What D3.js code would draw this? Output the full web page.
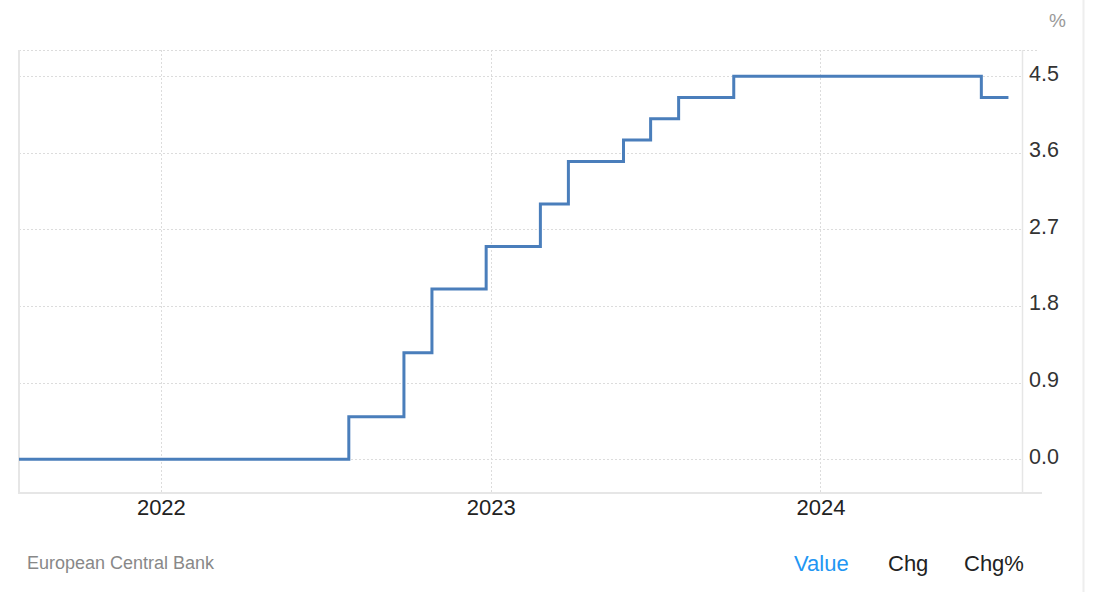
<!DOCTYPE html>
<html>
<head>
<meta charset="utf-8">
<script src="https://cdn.jsdelivr.net/npm/d3@7"></script>
<style>
  html, body { margin: 0; padding: 0; background: #fff; }
  svg { display: block; font-family: "Liberation Sans", Arial, sans-serif; }
</style>
</head>
<body>
<svg id="chart" width="1093" height="592"></svg>
<script>
// ---- data (change points of the series, step-after) ----
const dates = ["2021-07-28", "2022-07-28", "2022-09-27", "2022-10-28", "2022-12-27",
               "2023-02-25", "2023-03-28", "2023-05-28", "2023-06-27", "2023-07-28",
               "2023-09-27", "2024-06-27", "2024-07-27"];
const values = [0.0, 0.5, 1.25, 2.0, 2.5, 3.0, 3.5, 3.75, 4.0, 4.25, 4.5, 4.25, 4.25];
const yTicks = [0.0, 0.9, 1.8, 2.7, 3.6, 4.5];
const xTickYears = [2022, 2023, 2024];
const unitLabel = "%";
const sourceLabel = "European Central Bank";
const tabs = ["Value", "Chg", "Chg%"];

(function () {
const parse = d3.timeParse("%Y-%m-%d");
const data = dates.map((d, i) => ({ date: parse(d), value: values[i] }));

const svg = d3.select("#chart");
const pL = 19, pR = 1022, pT = 50, pB = 493;

const x = d3.scaleTime()
  .domain([parse("2021-07-28"), parse("2024-08-11")])
  .range([pL, pR]);
const y = d3.scaleLinear()
  .domain([-0.397, 4.809])
  .range([pB, pT]);

// page right border
svg.append("line").attr("x1", 1083.5).attr("x2", 1083.5).attr("y1", 0).attr("y2", 592)
  .attr("stroke", "#eeeeee").attr("stroke-width", 2);

const grid = svg.append("g");
grid.selectAll("line.h").data(yTicks).join("line")
  .attr("x1", pL).attr("x2", pR)
  .attr("y1", d => Math.round(y(d)) + 0.5).attr("y2", d => Math.round(y(d)) + 0.5)
  .attr("stroke", "#dcdcdc").attr("stroke-width", 1).attr("stroke-dasharray", "2,2");
grid.append("line").attr("x1", pL).attr("x2", 1037)
  .attr("y1", pT + 0.5).attr("y2", pT + 0.5)
  .attr("stroke", "#dcdcdc").attr("stroke-dasharray", "2,2");
const yearDates = xTickYears.map(yr => new Date(yr, 0, 1));
grid.selectAll("line.v").data(yearDates).join("line")
  .attr("x1", d => Math.round(x(d)) + 0.5).attr("x2", d => Math.round(x(d)) + 0.5)
  .attr("y1", pT).attr("y2", pB)
  .attr("stroke", "#dcdcdc").attr("stroke-width", 1).attr("stroke-dasharray", "2,2");

// borders
svg.append("line").attr("x1", pL).attr("x2", pL).attr("y1", pT).attr("y2", pB + 1)
  .attr("stroke", "#e6e6e6").attr("stroke-width", 2);
svg.append("line").attr("x1", pR + 0.5).attr("x2", pR + 0.5).attr("y1", pT).attr("y2", pB)
  .attr("stroke", "#e6e6e6").attr("stroke-width", 1.5);
svg.append("line").attr("x1", pL).attr("x2", 1042).attr("y1", pB).attr("y2", pB)
  .attr("stroke", "#e6e6e6").attr("stroke-width", 2);

// line
const line = d3.line().x(d => x(d.date)).y(d => y(d.value)).curve(d3.curveStepAfter);
svg.append("path").datum(data)
  .attr("d", line)
  .attr("fill", "none")
  .attr("stroke", "#4a7ebb")
  .attr("stroke-width", 3)
  .attr("stroke-linejoin", "miter")
  .attr("stroke-linecap", "butt");

// y axis labels (right)
const yAxis = d3.axisRight(y).tickValues(yTicks).tickFormat(d3.format(".1f")).tickSize(0).tickPadding(0);
const yg = svg.append("g").attr("transform", "translate(1029,-3)").call(yAxis);
yg.select(".domain").remove();
yg.selectAll("text").attr("font-size", 21.5).attr("fill", "#333").attr("font-family", "Liberation Sans, Arial, sans-serif");

// x axis labels
const xAxis = d3.axisBottom(x).tickValues(yearDates).tickFormat(d3.timeFormat("%Y")).tickSize(0).tickPadding(0);
const xg = svg.append("g").attr("transform", "translate(0,499)").call(xAxis);
xg.select(".domain").remove();
xg.selectAll("text").attr("font-size", 22).attr("fill", "#222").attr("font-family", "Liberation Sans, Arial, sans-serif");

// unit
svg.append("text").attr("x", 1049).attr("y", 27).text(unitLabel)
  .attr("font-size", 19).attr("fill", "#999");

// source
svg.append("text").attr("x", 27).attr("y", 569).text(sourceLabel)
  .attr("font-size", 18).attr("fill", "#888");

// tabs
const tabX = [794, 888, 964];
svg.selectAll("text.tab").data(tabs).join("text")
  .attr("class", "tab")
  .attr("x", (d, i) => tabX[i]).attr("y", 571)
  .attr("font-size", 22)
  .attr("fill", (d, i) => i === 0 ? "#2196f3" : "#222")
  .text(d => d);
})();
</script>
</body>
</html>
